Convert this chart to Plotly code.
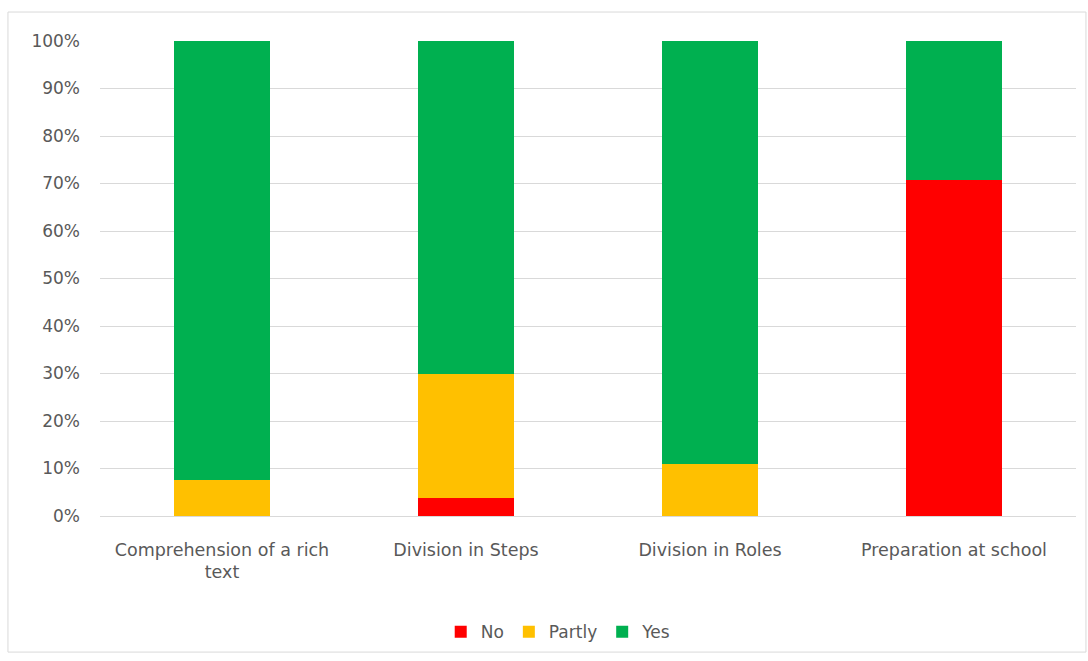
import plotly.graph_objects as go

categories = ["Comprehension of a rich<br>text", "Division in Steps", "Division in Roles", "Preparation at school"]
no_vals = [0.0, 3.7, 0.0, 70.7]
partly_vals = [7.5, 26.1, 11.0, 0.0]
yes_vals = [92.5, 70.2, 89.0, 29.3]
tick_vals = [0, 10, 20, 30, 40, 50, 60, 70, 80, 90, 100]
tick_text = [f"{v}%" for v in tick_vals]

FONT = "DejaVu Sans"
GRAY = "#595959"

fig = go.Figure()
fig.add_trace(go.Bar(name="No", x=categories, y=no_vals, marker_color="#FF0000", marker_line_width=0))
fig.add_trace(go.Bar(name="Partly", x=categories, y=partly_vals, marker_color="#FFC000", marker_line_width=0))
fig.add_trace(go.Bar(name="Yes", x=categories, y=yes_vals, marker_color="#00B050", marker_line_width=0))

fig.update_layout(
    barmode="stack",
    bargap=0.61,
    width=1088,
    height=661,
    margin=dict(l=100, r=12, t=41, b=144),
    paper_bgcolor="white",
    plot_bgcolor="white",
    font=dict(family=FONT, size=17, color=GRAY),
    showlegend=True,
    legend=dict(
        orientation="h",
        x=0.47,
        xanchor="center",
        y=-0.242,
        yanchor="middle",
        font=dict(family=FONT, size=17, color=GRAY),
        itemwidth=30,
        traceorder="normal",
    ),
    xaxis=dict(
        showgrid=False,
        showline=False,
        zeroline=False,
        ticks="",
        tickfont=dict(family=FONT, size=17.5, color=GRAY),
        ticklabelstandoff=21,
    ),
    yaxis=dict(
        range=[0, 100],
        tickvals=tick_vals,
        ticktext=tick_text,
        showgrid=True,
        gridcolor="#D9D9D9",
        gridwidth=1,
        zeroline=True,
        zerolinecolor="#D9D9D9",
        zerolinewidth=1,
        showline=False,
        ticks="",
        ticklabelstandoff=19,
        tickfont=dict(family=FONT, size=17, color=GRAY),
    ),
    shapes=[
        dict(
            type="rect",
            xref="paper",
            yref="paper",
            x0=-0.0943,
            x1=1.0102,
            y0=-0.2865,
            y1=1.061,
            line=dict(color="#D9D9D9", width=1),
            fillcolor="rgba(0,0,0,0)",
            layer="below",
        )
    ],
)

fig.write_html("out.html")
